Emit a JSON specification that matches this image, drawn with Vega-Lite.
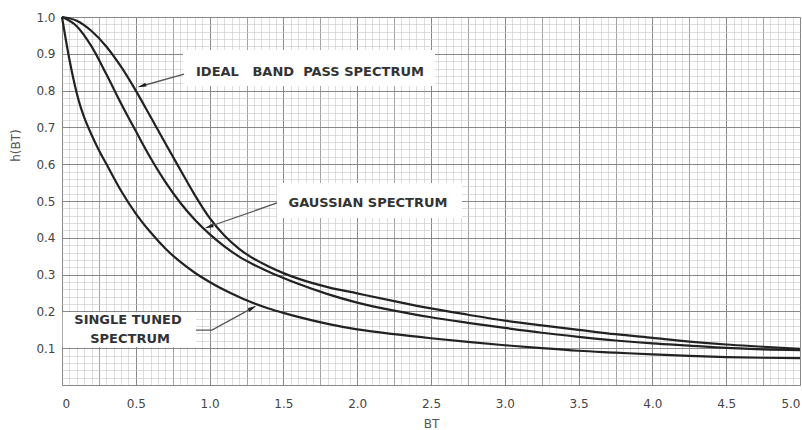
{
  "$schema": "https://vega.github.io/schema/vega-lite/v6.json",
  "width": 738,
  "height": 368,
  "autosize": {"type": "none"},
  "padding": {"left": 62, "top": 17, "right": 2, "bottom": 45},
  "background": "white",
  "config": {"view": {"stroke": null}},
  "datasets": {
    "curves": [
      {"s": "ideal", "BT": 0, "h": 1.0}, {"s": "ideal", "BT": 0.1, "h": 0.99}, {"s": "ideal", "BT": 0.2, "h": 0.962}, {"s": "ideal", "BT": 0.3, "h": 0.92}, {"s": "ideal", "BT": 0.4, "h": 0.865}, {"s": "ideal", "BT": 0.5, "h": 0.8}, {"s": "ideal", "BT": 0.6, "h": 0.729}, {"s": "ideal", "BT": 0.7, "h": 0.657}, {"s": "ideal", "BT": 0.8, "h": 0.586}, {"s": "ideal", "BT": 0.9, "h": 0.516}, {"s": "ideal", "BT": 1.0, "h": 0.454}, {"s": "ideal", "BT": 1.1, "h": 0.406}, {"s": "ideal", "BT": 1.2, "h": 0.37}, {"s": "ideal", "BT": 1.3, "h": 0.343}, {"s": "ideal", "BT": 1.4, "h": 0.322}, {"s": "ideal", "BT": 1.5, "h": 0.304}, {"s": "ideal", "BT": 1.6, "h": 0.289}, {"s": "ideal", "BT": 1.8, "h": 0.266}, {"s": "ideal", "BT": 2.0, "h": 0.249}, {"s": "ideal", "BT": 2.25, "h": 0.228}, {"s": "ideal", "BT": 2.5, "h": 0.208}, {"s": "ideal", "BT": 2.75, "h": 0.191}, {"s": "ideal", "BT": 3.0, "h": 0.175}, {"s": "ideal", "BT": 3.25, "h": 0.162}, {"s": "ideal", "BT": 3.5, "h": 0.15}, {"s": "ideal", "BT": 3.75, "h": 0.138}, {"s": "ideal", "BT": 4.0, "h": 0.128}, {"s": "ideal", "BT": 4.25, "h": 0.118}, {"s": "ideal", "BT": 4.5, "h": 0.11}, {"s": "ideal", "BT": 4.75, "h": 0.104}, {"s": "ideal", "BT": 5.0, "h": 0.098},
      {"s": "gauss", "BT": 0, "h": 1.0}, {"s": "gauss", "BT": 0.1, "h": 0.975}, {"s": "gauss", "BT": 0.2, "h": 0.92}, {"s": "gauss", "BT": 0.3, "h": 0.845}, {"s": "gauss", "BT": 0.4, "h": 0.765}, {"s": "gauss", "BT": 0.5, "h": 0.69}, {"s": "gauss", "BT": 0.6, "h": 0.617}, {"s": "gauss", "BT": 0.7, "h": 0.552}, {"s": "gauss", "BT": 0.8, "h": 0.496}, {"s": "gauss", "BT": 0.9, "h": 0.449}, {"s": "gauss", "BT": 1.0, "h": 0.41}, {"s": "gauss", "BT": 1.1, "h": 0.377}, {"s": "gauss", "BT": 1.2, "h": 0.349}, {"s": "gauss", "BT": 1.3, "h": 0.327}, {"s": "gauss", "BT": 1.4, "h": 0.308}, {"s": "gauss", "BT": 1.5, "h": 0.291}, {"s": "gauss", "BT": 1.6, "h": 0.275}, {"s": "gauss", "BT": 1.8, "h": 0.247}, {"s": "gauss", "BT": 2.0, "h": 0.224}, {"s": "gauss", "BT": 2.25, "h": 0.202}, {"s": "gauss", "BT": 2.5, "h": 0.184}, {"s": "gauss", "BT": 2.75, "h": 0.169}, {"s": "gauss", "BT": 3.0, "h": 0.155}, {"s": "gauss", "BT": 3.25, "h": 0.142}, {"s": "gauss", "BT": 3.5, "h": 0.131}, {"s": "gauss", "BT": 3.75, "h": 0.121}, {"s": "gauss", "BT": 4.0, "h": 0.113}, {"s": "gauss", "BT": 4.25, "h": 0.107}, {"s": "gauss", "BT": 4.5, "h": 0.101}, {"s": "gauss", "BT": 4.75, "h": 0.097}, {"s": "gauss", "BT": 5.0, "h": 0.095},
      {"s": "single", "BT": 0, "h": 1.0}, {"s": "single", "BT": 0.05, "h": 0.885}, {"s": "single", "BT": 0.1, "h": 0.793}, {"s": "single", "BT": 0.125, "h": 0.757}, {"s": "single", "BT": 0.15, "h": 0.728}, {"s": "single", "BT": 0.2, "h": 0.68}, {"s": "single", "BT": 0.25, "h": 0.638}, {"s": "single", "BT": 0.3, "h": 0.601}, {"s": "single", "BT": 0.4, "h": 0.528}, {"s": "single", "BT": 0.5, "h": 0.466}, {"s": "single", "BT": 0.6, "h": 0.415}, {"s": "single", "BT": 0.7, "h": 0.371}, {"s": "single", "BT": 0.8, "h": 0.335}, {"s": "single", "BT": 0.9, "h": 0.305}, {"s": "single", "BT": 1.0, "h": 0.28}, {"s": "single", "BT": 1.1, "h": 0.258}, {"s": "single", "BT": 1.2, "h": 0.239}, {"s": "single", "BT": 1.3, "h": 0.222}, {"s": "single", "BT": 1.4, "h": 0.208}, {"s": "single", "BT": 1.5, "h": 0.196}, {"s": "single", "BT": 1.6, "h": 0.185}, {"s": "single", "BT": 1.8, "h": 0.166}, {"s": "single", "BT": 2.0, "h": 0.151}, {"s": "single", "BT": 2.25, "h": 0.138}, {"s": "single", "BT": 2.5, "h": 0.127}, {"s": "single", "BT": 2.75, "h": 0.117}, {"s": "single", "BT": 3.0, "h": 0.108}, {"s": "single", "BT": 3.25, "h": 0.1}, {"s": "single", "BT": 3.5, "h": 0.093}, {"s": "single", "BT": 3.75, "h": 0.088}, {"s": "single", "BT": 4.0, "h": 0.083}, {"s": "single", "BT": 4.25, "h": 0.079}, {"s": "single", "BT": 4.5, "h": 0.076}, {"s": "single", "BT": 4.75, "h": 0.074}, {"s": "single", "BT": 5.0, "h": 0.073}
    ],
    "boxes": [
      {"name": "ideal", "x1": 0.82, "x2": 2.527, "y1": 0.91, "y2": 0.8125},
      {"name": "gauss", "x1": 1.457, "x2": 2.71, "y1": 0.549, "y2": 0.454},
      {"name": "single", "x1": 0.005, "x2": 0.908, "y1": 0.198, "y2": 0.103}
    ],
    "labels": [
      {"text": "IDEAL\u00a0\u00a0 BAND\u00a0 PASS SPECTRUM", "BT": 1.68, "h": 0.851},
      {"text": "GAUSSIAN SPECTRUM", "BT": 2.073, "h": 0.4946},
      {"text": "SINGLE TUNED", "BT": 0.447, "h": 0.1766},
      {"text": "SPECTRUM", "BT": 0.461, "h": 0.125}
    ],
    "arrows": [
      {"name": "ideal", "o": 1, "BT": 0.827, "h": 0.845},
      {"name": "ideal", "o": 2, "BT": 0.54, "h": 0.8125},
      {"name": "gauss", "o": 1, "BT": 1.457, "h": 0.4946},
      {"name": "gauss", "o": 2, "BT": 0.995, "h": 0.43},
      {"name": "single", "o": 1, "BT": 0.908, "h": 0.149},
      {"name": "single", "o": 2, "BT": 1.016, "h": 0.149},
      {"name": "single", "o": 3, "BT": 1.291, "h": 0.2095}
    ],
    "heads": [
      {"name": "ideal", "BT": 0.54, "h": 0.8125},
      {"name": "gauss", "BT": 0.995, "h": 0.43},
      {"name": "single", "BT": 1.291, "h": 0.2095}
    ]
  },
  "resolve": {"axis": {"x": "independent", "y": "independent"}},
  "layer": [
    {
      "data": {"name": "curves"},
      "mark": {"type": "line", "strokeOpacity": 0},
      "encoding": {
        "x": {"field": "BT", "type": "quantitative", "scale": {"domain": [0, 5], "nice": false, "zero": false},
              "axis": {"orient": "bottom", "labels": false, "ticks": false, "domain": false, "title": null, "grid": true, "tickCount": 100, "gridColor": "#c6c6c6", "gridWidth": 0.6, "gridOpacity": 1}},
        "y": {"field": "h", "type": "quantitative", "scale": {"domain": [0, 1], "nice": false, "zero": false},
              "axis": {"orient": "left", "labels": false, "ticks": false, "domain": false, "title": null, "grid": true, "tickCount": 50, "gridColor": "#c6c6c6", "gridWidth": 0.6, "gridOpacity": 1}},
        "detail": {"field": "s"}
      }
    },
    {
      "data": {"name": "curves"},
      "mark": {"type": "line", "strokeOpacity": 0},
      "encoding": {
        "x": {"field": "BT", "type": "quantitative",
              "axis": {"orient": "bottom", "labels": false, "ticks": false, "domain": false, "title": null, "grid": true, "values": [0,0.25,0.5,0.75,1,1.25,1.5,1.75,2,2.25,2.5,2.75,3,3.25,3.5,3.75,4,4.25,4.5,4.75,5], "gridColor": "#9c9c9c", "gridWidth": 0.9, "gridOpacity": 1}},
        "y": {"field": "h", "type": "quantitative",
              "axis": {"orient": "left", "labels": false, "ticks": false, "domain": false, "title": null, "grid": true, "values": [0,0.1,0.2,0.3,0.4,0.5,0.6,0.7,0.8,0.9,1.0], "gridColor": "#888888", "gridWidth": 1, "gridOpacity": 1}},
        "detail": {"field": "s"}
      }
    },
    {
      "data": {"name": "boxes"},
      "mark": {"type": "rect", "fill": "white", "stroke": null},
      "encoding": {
        "x": {"field": "x1", "type": "quantitative", "axis": null},
        "x2": {"field": "x2"},
        "y": {"field": "y1", "type": "quantitative", "axis": null},
        "y2": {"field": "y2"}
      }
    },
    {
      "data": {"name": "curves"},
      "mark": {"type": "line", "stroke": "#222222", "strokeWidth": 2.2, "interpolate": "monotone"},
      "encoding": {
        "x": {"field": "BT", "type": "quantitative",
              "axis": {"orient": "bottom", "values": [0,0.5,1,1.5,2,2.5,3,3.5,4,4.5,5], "labelExpr": "datum.value == 0 ? '0' : format(datum.value, '.1f')", "grid": true, "gridColor": "#888888", "gridWidth": 1, "gridOpacity": 1, "domain": false, "ticks": false, "tickSize": 0, "labelPadding": 18, "labelBaseline": "middle", "labelFont": "DejaVu Sans", "labelFontSize": 12, "labelColor": "#444444", "labelFlush": true, "labelOverlap": false, "title": "BT", "titleFont": "DejaVu Sans", "titleFontSize": 12, "titleFontWeight": "normal", "titleColor": "#555555", "titleBaseline": "middle", "titleY": 38}},
        "y": {"field": "h", "type": "quantitative",
              "axis": {"orient": "left", "values": [0.1,0.2,0.3,0.4,0.5,0.6,0.7,0.8,0.9,1.0], "format": ".1f", "grid": false, "domain": false, "ticks": false, "tickSize": 0, "labelPadding": 7, "labelBaseline": "middle", "labelFont": "DejaVu Sans", "labelFontSize": 12, "labelColor": "#444444", "labelFlush": false, "labelOverlap": false, "title": "h(BT)", "titleFont": "DejaVu Sans", "titleFontSize": 12, "titleFontWeight": "normal", "titleColor": "#555555", "titleX": -47, "titleY": 128, "titleBaseline": "middle", "titleAlign": "center"}},
        "detail": {"field": "s"}
      }
    },
    {
      "data": {"name": "arrows"},
      "mark": {"type": "line", "stroke": "#555555", "strokeWidth": 1.3},
      "encoding": {
        "x": {"field": "BT", "type": "quantitative", "axis": null},
        "y": {"field": "h", "type": "quantitative", "axis": null},
        "detail": {"field": "name"},
        "order": {"field": "o"}
      }
    },
    {
      "data": {"name": "heads"},
      "transform": [{"filter": "datum.name == 'ideal'"}],
      "mark": {"type": "point", "shape": "M0,-1L0.45,1L-0.45,1Z", "filled": true, "fill": "#222222", "opacity": 1, "size": 80, "angle": 253},
      "encoding": {
        "x": {"field": "BT", "type": "quantitative", "axis": null},
        "y": {"field": "h", "type": "quantitative", "axis": null}
      }
    },
    {
      "data": {"name": "heads"},
      "transform": [{"filter": "datum.name == 'gauss'"}],
      "mark": {"type": "point", "shape": "M0,-1L0.45,1L-0.45,1Z", "filled": true, "fill": "#222222", "opacity": 1, "size": 80, "angle": 251},
      "encoding": {
        "x": {"field": "BT", "type": "quantitative", "axis": null},
        "y": {"field": "h", "type": "quantitative", "axis": null}
      }
    },
    {
      "data": {"name": "heads"},
      "transform": [{"filter": "datum.name == 'single'"}],
      "mark": {"type": "point", "shape": "M0,-1L0.45,1L-0.45,1Z", "filled": true, "fill": "#222222", "opacity": 1, "size": 80, "angle": 61},
      "encoding": {
        "x": {"field": "BT", "type": "quantitative", "axis": null},
        "y": {"field": "h", "type": "quantitative", "axis": null}
      }
    },
    {
      "data": {"name": "labels"},
      "mark": {"type": "text", "font": "DejaVu Sans", "fontSize": 13, "fontWeight": "bold", "fill": "#333333", "align": "center", "baseline": "middle"},
      "encoding": {
        "x": {"field": "BT", "type": "quantitative", "axis": null},
        "y": {"field": "h", "type": "quantitative", "axis": null},
        "text": {"field": "text"}
      }
    }
  ]
}
